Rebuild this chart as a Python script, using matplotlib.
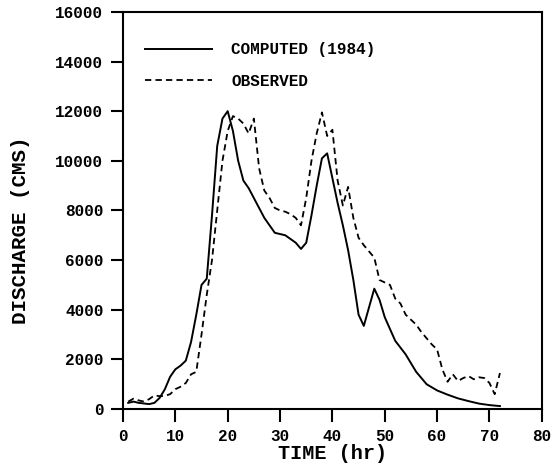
import matplotlib
matplotlib.use("Agg")
import matplotlib.pyplot as plt

t_comp = [1, 2, 3, 5, 6, 7, 8, 9, 10, 11, 12, 13, 14, 15, 16, 17, 18, 19, 20, 21, 22, 23,
          24, 25, 26, 27, 28, 29, 30, 31, 32, 33, 34, 35, 36, 37, 38, 39, 40, 41, 42, 43,
          44, 45, 46, 47, 48, 49, 50, 52, 54, 56, 58, 60, 62, 64, 66, 68, 70, 72]
q_comp = [250, 300, 250, 200, 250, 450, 800, 1300, 1600, 1750, 1950, 2700, 3800, 5000,
          5250, 7800, 10600, 11700, 12000, 11200, 10000, 9200, 8900, 8500, 8100, 7700,
          7400, 7100, 7050, 7000, 6850, 6700, 6450, 6700, 7800, 9000, 10100, 10300, 9300,
          8300, 7400, 6400, 5200, 3800, 3350, 4100, 4850, 4400, 3700, 2750, 2200, 1500,
          1000, 750, 580, 430, 320, 220, 160, 120]

t_obs = list(range(1, 73))
q_obs = [300, 420, 350, 300, 400, 550, 520, 530, 600, 800, 900, 1050, 1400, 1500, 3000,
         4600, 6000, 8000, 10000, 11200, 11800, 11700, 11500, 11100, 11700, 9700, 8800,
         8500, 8100, 8000, 7950, 7850, 7700, 7400, 8500, 10000, 11100, 11950, 11000, 11250,
         9200, 8200, 8950, 7700, 6900, 6600, 6350, 6100, 5200, 5100, 5000, 4450, 4250, 3800,
         3600, 3400, 3100, 2850, 2600, 2400, 1600, 1100, 1400, 1130, 1250, 1330, 1200, 1280,
         1250, 1050, 600, 1450]

x_ticks = [0, 10, 20, 30, 40, 50, 60, 70, 80]
y_ticks = [0, 2000, 4000, 6000, 8000, 10000, 12000, 14000, 16000]
labels = ["COMPUTED (1984)", "OBSERVED"]

plt.rcParams['font.family'] = ['Liberation Mono', 'DejaVu Sans']
plt.rcParams['font.weight'] = 'bold'

fig = plt.figure(figsize=(5.54, 4.74), dpi=100)
ax = fig.add_axes([0.222, 0.137, 0.756, 0.838])

ax.plot(t_comp, q_comp, color='black', lw=1.4, label=labels[0])
ax.plot(t_obs, q_obs, color='black', lw=1.3, linestyle=(0, (3.5, 2.3)), label=labels[1])

ax.set_xlim(0, 80)
ax.set_ylim(0, 16000)
ax.set_xticks(x_ticks)
ax.set_yticks(y_ticks)
ax.tick_params(direction='out', length=9, width=1.5, labelsize=11.5, pad=5)
for lab in ax.get_xticklabels() + ax.get_yticklabels():
    lab.set_fontweight('bold')
for s in ax.spines.values():
    s.set_linewidth(1.5)

ax.set_xlabel("TIME (hr)", fontsize=14.5, fontweight='bold', labelpad=0)
ax.set_ylabel("DISCHARGE (CMS)", fontsize=15, fontweight='bold')
ax.yaxis.set_label_coords(-0.222, 0.45)

leg = ax.legend(loc='upper left', bbox_to_anchor=(0.018, 0.96), frameon=False,
                handlelength=4.2, handletextpad=1.2, labelspacing=1.05,
                prop={'family': 'Liberation Mono', 'weight': 'bold', 'size': 11.5})

fig.savefig("out.png", dpi=100)
